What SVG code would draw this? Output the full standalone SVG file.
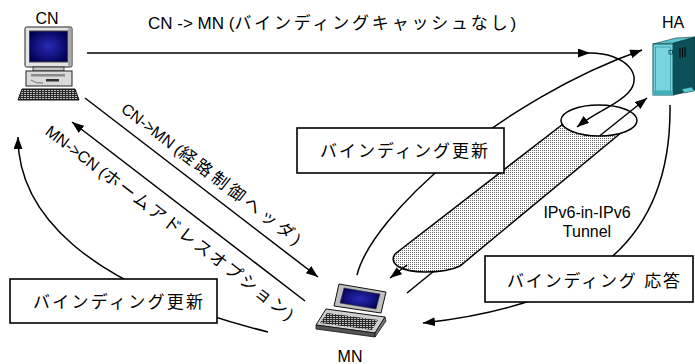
<svg xmlns="http://www.w3.org/2000/svg" width="695" height="364" viewBox="0 0 695 364">
  <style>
    .txt { font-family: "Liberation Sans", "Noto Sans CJK JP", sans-serif; fill: #000; }
    .lbl { font-size: 16px; }
    .msg { font-size: 16px; }
    .jp { font-size: 17px; }
    .box rect { fill: #fff; stroke: #000; stroke-width: 1.6; }
    .ln { fill: none; stroke: #000; stroke-width: 1.5; }
    .arr { marker-end: url(#ah); }
  </style>
  <defs>
    <marker id="ah" markerUnits="userSpaceOnUse" markerWidth="13" markerHeight="10" refX="12" refY="4.5" orient="auto">
      <path d="M0,0 L12,4.5 L0,9 z" fill="#000"/>
    </marker>
    <pattern id="dots" width="2" height="2" patternUnits="userSpaceOnUse">
      <rect width="2" height="2" fill="#fff"/>
      <rect width="1" height="1" fill="#666"/>
    </pattern>
    <pattern id="keys" width="3" height="2" patternUnits="userSpaceOnUse">
      <rect width="3" height="2" fill="#2a2a2a"/>
      <rect width="2" height="1" fill="#bdbdbd"/>
    </pattern>
    <radialGradient id="crt" cx="0.5" cy="0.5" r="0.6">
      <stop offset="0" stop-color="#2a2ab8"/>
      <stop offset="1" stop-color="#000050"/>
    </radialGradient>
  </defs>

  <rect width="695" height="364" fill="#fff"/>

  <!-- connectors drawn beneath the tunnel and the label boxes -->
  <g id="connectors-under">
    <!-- MN -> HA through the tunnel (lower visible part) -->
    <line class="ln" x1="407" y1="293" x2="434" y2="271"/>
    <!-- binding update MN -> HA -->
    <path class="ln arr" d="M357,275 C372,215 500,100 642,50"/>
    <!-- binding update MN -> CN -->
    <path class="ln arr" d="M268,332 C80,285 18,210 18,137"/>
    <!-- binding acknowledgement HA -> MN -->
    <path class="ln arr" d="M670,105 C672,250 580,305 423,323"/>
  </g>

  <!-- IPv6-in-IPv6 tunnel -->
  <g id="tunnel">
    <path d="M563,124 L395,254 C388,264 402,272 425,272 C440,272 452,270 460,266 L622,132 Z" fill="url(#dots)"/>
    <path class="ln" d="M563,124 L395,254 C388,264 402,272 425,272 C440,272 452,270 460,266 L622,132"/>
    <ellipse cx="599" cy="120.5" rx="38" ry="15.5" fill="#fff" stroke="#000" stroke-width="1.5"/>
    <text class="txt msg" x="587" y="218" text-anchor="middle">IPv6-in-IPv6</text>
    <text class="txt msg" x="587" y="237" text-anchor="middle">Tunnel</text>
  </g>

  <g id="connectors">
    <!-- CN -> MN without binding cache -->
    <line class="ln arr" x1="87" y1="53" x2="590" y2="53"/>
    <path class="ln arr" d="M590,53 C625,53 645,75 628,93 C616,106 598,110 577,127"/>
    <line class="ln arr" x1="407" y1="265" x2="390" y2="278"/>
    <!-- MN -> HA through the tunnel (upper visible part) -->
    <line class="ln arr" x1="599.5" y1="136" x2="647" y2="98"/>
    <!-- CN -> MN with routing header -->
    <line class="ln arr" x1="85" y1="98" x2="318" y2="277"/>
    <!-- MN -> CN with home address option -->
    <line class="ln arr" x1="305" y1="301" x2="72" y2="122"/>
  </g>

  <!-- message labels -->
  <text class="txt msg" x="148" y="29"><tspan font-size="17">CN -&gt; MN (</tspan><tspan class="jp" letter-spacing="2.8">バインディングキャッシュなし</tspan><tspan font-size="17">)</tspan></text>
  <text class="txt msg" transform="translate(119.9,111) rotate(37.53)">CN-&gt;MN (<tspan class="jp" letter-spacing="3.5">経路制御ヘッダ</tspan>)</text>
  <text class="txt msg" transform="translate(44.3,133.5) rotate(37.53)">MN-&gt;CN (<tspan class="jp" letter-spacing="2.2">ホームアドレスオプション</tspan>)</text>

  <g id="bu-ha" class="box">
    <rect x="297" y="128" width="207" height="45"/>
    <text class="txt jp" x="320" y="157" textLength="168">バインディング更新</text>
  </g>
  <g id="bu-cn" class="box">
    <rect x="10" y="279" width="207" height="44"/>
    <text class="txt jp" x="33" y="308" textLength="170">バインディング更新</text>
  </g>
  <g id="back" class="box">
    <rect x="485" y="256" width="208" height="46"/>
    <text class="txt jp" x="507" y="287" textLength="173">バインディング 応答</text>
  </g>

  <!-- correspondent node: desktop computer -->
  <g id="CN">
    <text class="txt lbl" x="47" y="24" text-anchor="middle">CN</text>
    <rect x="25" y="27" width="47" height="40" rx="1.5" fill="#e4e4e4" stroke="#222" stroke-width="1"/>
    <rect x="68" y="28" width="3.5" height="38" fill="#a8a8a8"/>
    <rect x="29.5" y="31" width="38" height="31" fill="url(#crt)" stroke="#444" stroke-width="1"/>
    <rect x="33" y="67" width="31" height="4" fill="#c4c4c4" stroke="#222" stroke-width="0.8"/>
    <rect x="26" y="71" width="46" height="15" fill="#dadada" stroke="#222" stroke-width="1"/>
    <rect x="31" y="74" width="34" height="2.5" fill="#8a8a8a"/>
    <rect x="46" y="79" width="13" height="2.5" fill="#333"/>
    <path d="M31,80 q5,4 12,3" fill="none" stroke="#555" stroke-width="0.8"/>
    <polygon points="22,89 75,89 79,100 18,100" fill="url(#keys)" stroke="#111" stroke-width="1"/>
  </g>

  <!-- home agent: tower server -->
  <g id="HA">
    <text class="txt lbl" x="673" y="28" text-anchor="middle">HA</text>
    <polygon points="673,43 695,37 695,90 673,95" fill="#0c4f57" stroke="#06363b" stroke-width="0.8"/>
    <polygon points="653,44 673,43 695,37 676,38" fill="#5ec8d1" stroke="#06363b" stroke-width="0.6"/>
    <rect x="653" y="44" width="20" height="51" fill="#78d5dd" stroke="#0a5a62" stroke-width="1"/>
    <rect x="655.5" y="47" width="15" height="44" fill="none" stroke="#2b8f98" stroke-width="0.7"/>
    <rect x="669" y="50.5" width="3.5" height="3.5" fill="none" stroke="#06363b" stroke-width="0.7"/>
    <g stroke="#000" stroke-width="1">
      <line x1="680" y1="48" x2="680" y2="58"/>
      <line x1="682.5" y1="47.5" x2="682.5" y2="57.5"/>
      <line x1="685" y1="47" x2="685" y2="57"/>
    </g>
    <polygon points="682,89 692,87 694,91 684,93" fill="#5ec8d1" stroke="#0a5a62" stroke-width="0.6"/>
    <rect x="653" y="91" width="20" height="4" fill="#3fb0ba"/>
  </g>

  <!-- mobile node: notebook computer -->
  <g id="MN">
    <text class="txt lbl" x="350" y="362" text-anchor="middle" font-size="17">MN</text>
    <polygon points="339,284 386,292 381,313 334,306" fill="#bfbfbf" stroke="#111" stroke-width="1"/>
    <polygon points="344,288 380,294 376,309 340,303" fill="url(#crt)" stroke="#333" stroke-width="0.6"/>
    <polygon points="326,309 385,317 375,333 316,325" fill="#cfcfcf" stroke="#111" stroke-width="1"/>
    <polygon points="327,313 378,320 372,330 320,323" fill="url(#keys)"/>
    <polygon points="316,325 375,333 375,337 316,329" fill="#555" stroke="#111" stroke-width="0.8"/>
    <polygon points="385,317 375,333 375,337 386,321" fill="#777" stroke="#111" stroke-width="0.8"/>
  </g>
</svg>
